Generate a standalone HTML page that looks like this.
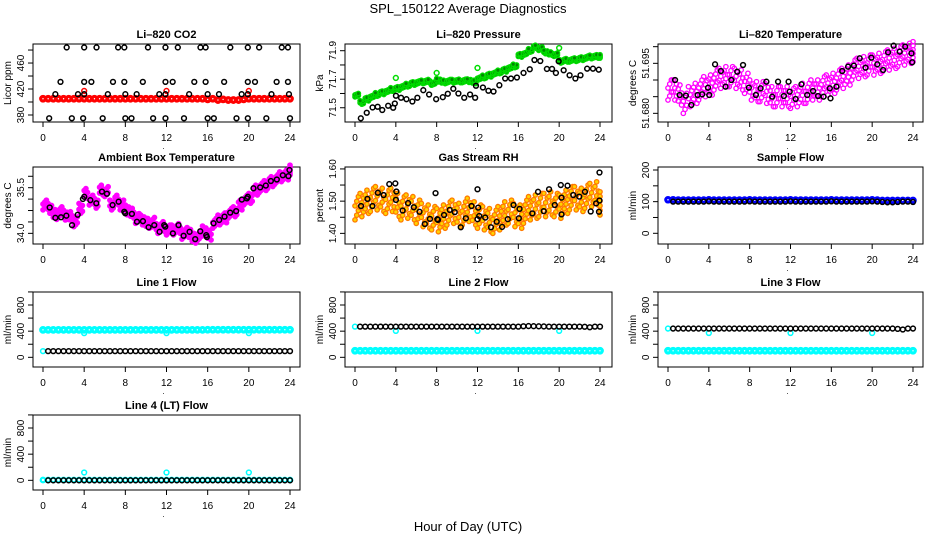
<!DOCTYPE html>
<html><head><meta charset="utf-8"><style>
html,body{margin:0;padding:0;background:#fff;}
svg{display:block;font-family:"Liberation Sans",Arial,sans-serif;}
</style></head><body>
<svg id="chart" width="936" height="540" viewBox="0 0 936 540">
<text x="468" y="13" text-anchor="middle" font-size="13">SPL_150122  Average Diagnostics</text>
<text x="468" y="531" text-anchor="middle" font-size="13">Hour of Day (UTC)</text>
</svg>
<script>
// ---- shared x data ----
const halfHours = [0,0.5,1,1.5,2,2.5,3,3.5,4,4.5,5,5.5,6,6.5,7,7.5,8,8.5,9,9.5,10,10.5,11,11.5,12,12.5,13,13.5,14,14.5,15,15.5,16,16.5,17,17.5,18,18.5,19,19.5,20,20.5,21,21.5,22,22.5,23,23.5,24];
const flowHours = [0.5,1,1.5,2,2.5,3,3.5,4,4.5,5,5.5,6,6.5,7,7.5,8,8.5,9,9.5,10,10.5,11,11.5,12,12.5,13,13.5,14,14.5,15,15.5,16,16.5,17,17.5,18,18.5,19,19.5,20,20.5,21,21.5,22,22.5,23,23.5,24];
const xTickLabels = ["0","4","8","12","16","20","24"];
const calHours = [4,12,20];

// ---- CO2 ----
const co2Red = [405,405,405,405,405,405,405,405,405,405,405,405,405,405,405,405,405,405,405,405,405,405,405,405,405,405,405,405,405,405,405,405,404,405,403,404,403,403,403,404,405,405,405,405,405,405,405,405,405];
const co2RedOutT = [4,12,20];
const co2RedOut = [417,417,417];
const co2TopT = [2.3,4.0,5.2,7.3,7.9,10.2,11.9,13.1,15.3,15.8,18.2,19.9,21.0,23.2,23.8];
const co2TopV = [484,484,484,484,484,484,484,484,484,484,484,484,484,484,484];
const co2HiT = [1.7,4.0,4.7,6.8,7.9,9.7,11.9,12.6,14.7,15.8,17.6,19.9,20.6,22.7,23.8];
const co2HiV = [431,431,431,431,431,431,431,431,431,431,431,431,431,431,431];
const co2MidT = [1.2,3.4,4.0,6.3,8.0,9.1,11.3,11.9,14.2,16.0,17.1,19.3,19.9,22.2,23.9];
const co2MidV = [412,412,412,412,412,412,412,412,412,412,412,412,412,412,412];
const co2LowT = [0.6,2.8,3.9,5.8,8.0,8.6,10.7,11.9,13.7,16.0,16.6,18.8,19.9,21.7,24];
const co2LowV = [375,375,375,375,375,375,375,375,375,375,375,375,375,375,375];

// ---- Pressure ----
const presGreen = [71.588,71.537,71.56,71.577,71.593,71.605,71.616,71.628,71.635,71.647,71.658,71.670,71.677,71.681,71.686,71.67,71.693,71.681,71.686,71.686,71.688,71.688,71.69,71.681,71.705,71.716,71.728,71.74,71.751,71.763,71.779,71.793,71.867,71.879,71.902,71.926,71.914,71.891,71.879,71.872,71.826,71.833,71.833,71.837,71.844,71.851,71.856,71.86,71.86];
const presGreenOut = [71.709,71.744,71.779,71.919];
const presGreenOutT = [4,8,12,20];
const presBlackT = [0.57,1.15,1.72,2.22,2.67,3.25,3.74,3.9,4.01,4.51,5.04,5.62,6.11,6.69,7.26,7.95,8.6,9.09,9.63,10.13,10.7,11.27,11.77,11.85,12.53,13.07,13.57,14.14,14.71,15.28,15.86,16.51,17.12,17.58,18.15,18.8,19.3,19.68,19.95,20.44,21.02,21.59,22.09,22.74,23.31,23.88];
const presBlackV = [71.426,71.465,71.502,71.507,71.484,71.514,71.5,71.53,71.584,71.57,71.56,71.544,71.57,71.623,71.593,71.56,71.574,71.598,71.633,71.6,71.57,71.593,71.57,71.654,71.642,71.619,71.614,71.658,71.705,71.705,71.712,71.744,71.77,71.835,71.828,71.772,71.772,71.744,71.826,71.763,71.728,71.705,71.728,71.774,71.774,71.767];

// ---- Li-820 temperature ----
const tempMag = [51.687,51.687,51.6855,51.683,51.685,51.686,51.687,51.688,51.6885,51.690,51.6905,51.691,51.691,51.6905,51.690,51.689,51.687,51.6865,51.6865,51.686,51.685,51.685,51.685,51.685,51.6845,51.685,51.686,51.686,51.687,51.687,51.688,51.6885,51.689,51.690,51.6905,51.6915,51.693,51.6935,51.694,51.6945,51.6945,51.695,51.6955,51.696,51.6965,51.697,51.6975,51.698,51.6985];
const tempBlackT = [0.69,1.14,1.75,2.29,2.9,3.35,3.92,4.04,4.61,5.18,5.64,6.21,6.78,7.35,7.92,8.61,9.07,9.64,10.21,10.78,11.35,11.81,11.92,12.5,13.07,13.64,14.21,14.7,15.24,15.85,15.92,16.5,17.07,17.64,18.21,18.78,19.35,19.92,20.5,21.07,21.56,22.1,22.7,23.24,23.85,23.92];
const tempBlackV = [51.69,51.6855,51.6853,51.6825,51.6855,51.6857,51.6877,51.6855,51.6947,51.6927,51.688,51.69,51.6925,51.6945,51.6877,51.6855,51.6875,51.6895,51.685,51.6895,51.6852,51.6895,51.6865,51.6843,51.6887,51.6855,51.6867,51.6852,51.685,51.6875,51.6845,51.688,51.6927,51.694,51.6943,51.6965,51.6937,51.6967,51.6947,51.693,51.6983,51.7003,51.6985,51.7,51.698,51.6953];

// ---- Ambient box temperature ----
const ambMag = [34.93,34.82,34.62,34.71,34.60,34.55,34.38,34.82,35.31,35.09,34.99,35.42,35.37,34.93,35.09,34.93,34.77,34.66,34.49,34.44,34.33,34.36,34.16,34.22,34.11,34.11,34.16,33.97,34.03,33.84,33.92,34.08,33.94,34.33,34.44,34.51,34.66,34.71,34.93,35.09,35.15,35.42,35.5,35.57,35.70,35.77,35.86,35.92,36.08];
const ambBlackT = [0.65,1.2,1.75,2.27,2.82,3.37,3.88,4.01,4.6,5.18,5.73,6.21,6.76,7.35,7.9,7.99,8.64,9.13,9.71,10.26,10.81,11.33,11.78,11.88,12.62,13.17,13.66,14.24,14.79,15.28,15.86,15.92,16.57,17.12,17.64,18.19,18.77,19.32,19.81,19.9,20.45,21.1,21.65,22.14,22.72,23.3,23.85,23.95];
const ambBlackV = [34.85,34.51,34.53,34.58,34.27,34.61,35.13,35.2,35.09,34.99,35.37,35.3,34.93,35.04,34.71,34.66,34.64,34.38,34.4,34.2,34.27,34.05,34.27,34.22,34.0,34.27,33.92,34.05,33.81,34.07,33.94,33.88,34.33,34.44,34.55,34.68,34.73,35.11,35.15,35.2,35.48,35.51,35.57,35.72,35.77,35.91,35.88,36.08];

// ---- Gas stream RH ----
const rhOrange = [1.478,1.488,1.498,1.504,1.509,1.504,1.498,1.504,1.488,1.478,1.483,1.478,1.467,1.457,1.452,1.447,1.441,1.452,1.462,1.467,1.457,1.462,1.473,1.462,1.452,1.447,1.441,1.436,1.447,1.462,1.467,1.457,1.452,1.467,1.478,1.483,1.488,1.488,1.493,1.488,1.483,1.498,1.509,1.509,1.504,1.514,1.519,1.524,1.493];
const rhBlackT = [0.59,1.22,1.71,2.24,2.8,3.36,3.95,4.05,4.01,4.67,5.2,5.76,6.32,6.84,7.34,7.89,8.06,8.13,8.72,9.28,9.77,10.36,10.86,11.41,12.0,12.07,12.0,12.17,12.76,13.32,13.88,14.41,14.97,15.53,16.05,16.12,17.37,17.93,18.49,19.01,19.57,20.16,20.23,20.23,20.82,21.38,21.97,22.53,23.09,23.62,23.95,23.95,23.9];
const rhBlackV = [1.485,1.507,1.485,1.526,1.519,1.553,1.555,1.53,1.504,1.471,1.494,1.481,1.467,1.429,1.445,1.525,1.444,1.442,1.457,1.473,1.466,1.419,1.447,1.485,1.537,1.48,1.444,1.454,1.449,1.419,1.436,1.42,1.444,1.488,1.447,1.476,1.462,1.529,1.469,1.537,1.488,1.55,1.511,1.459,1.548,1.519,1.514,1.529,1.468,1.493,1.589,1.502,1.467];

// ---- Sample flow ----
const sampleBlue = [106,106,105,105,105,105,105,105,106,105,105,105,105,105,105,105,106,105,105,105,105,105,105,105,106,105,105,105,105,105,105,105,106,105,105,105,105,105,105,105,106,105,104,104,104,104,104,104,104];
const sampleBlack = [100,100,100,100,100,100,100,101,100,100,100,100,100,100,100,101,100,100,100,100,100,100,100,101,100,100,100,100,100,100,100,101,100,100,100,100,100,100,100,101,100,99,98,98,99,100,100,99];

// ---- Line flows ----
const l1Cyan = [420,420,420,420,420,420,420,420,420,420,420,420,420,420,420,420,420,420,420,420,420,420,420,420,420,420,420,420,420,420,420,420,422,422,422,422,422,422,422,422,422,422,422,422,422,422,422,422,422];
const l1CyanLow = [95];
const l1CyanOut = [370,370,370];
const l1Black = [95,95,95,95,95,95,95,95,95,95,95,95,95,95,95,95,95,95,95,95,95,95,95,95,95,95,95,95,95,95,95,95,95,95,95,95,95,95,95,95,95,95,95,95,95,95,95,95];
const l2Cyan = [100,100,100,100,100,100,100,100,100,100,100,100,100,100,100,100,100,100,100,100,100,100,100,100,100,100,100,100,100,100,100,100,100,100,100,100,100,100,100,100,100,100,100,100,100,100,100,100,100];
const l2CyanHigh = [470];
const l2CyanOut = [405,405,405];
const l2Black = [470,470,470,470,470,470,470,470,470,470,470,470,470,470,470,470,470,470,470,470,470,470,470,470,470,470,470,470,470,470,470,470,475,478,476,474,472,470,470,470,470,470,470,470,468,460,470,470];
const l3Cyan = [100,100,100,100,100,100,100,100,100,100,100,100,100,100,100,100,100,100,100,100,100,100,100,100,100,100,100,100,100,100,100,100,100,100,100,100,100,100,100,100,100,100,100,100,100,100,100,100,100];
const l3CyanHigh = [440];
const l3CyanOut = [372,372,372];
const l3Black = [440,440,440,440,440,440,440,440,440,440,440,440,440,440,440,440,440,440,440,440,440,440,440,440,440,440,440,440,440,440,440,440,440,440,440,440,440,440,440,440,440,440,440,440,435,425,440,440];
const l4Cyan = [5,5,5,5,5,5,5,5,5,5,5,5,5,5,5,5,5,5,5,5,5,5,5,5,5,5,5,5,5,5,5,5,5,5,5,5,5,5,5,5,5,5,5,5,5,5,5,5,5];
const l4CyanOut = [120,120,120];
const l4Black = [0,0,0,0,0,0,0,0,0,0,0,0,0,0,0,0,0,0,0,0,0,0,0,0,0,0,0,0,0,0,0,0,0,0,0,0,0,0,0,0,0,0,0,0,0,0,0,0];

// ---- y-axis tick/label arrays ----
const co2Ticks = [380,400,420,440,460,480];
const co2Labels = ["380","","420","","460",""];
const presTicks = [71.5,71.6,71.7,71.8,71.9];
const presLabels = ["71.5","","71.7","","71.9"];
const tempTicks = [51.680,51.685,51.690,51.695,51.700];
const tempLabels = ["51.680","","","51.695",""];
const ambTicks = [34.0,34.375,34.75,35.125,35.5,35.875];
const ambLabels = ["34.0","","","","35.5",""];
const rhTicks = [1.40,1.45,1.50,1.55,1.60];
const rhLabels = ["1.40","","1.50","","1.60"];
const sfTicks = [0,50,100,150,200];
const sfLabels = ["0","","100","","200"];
const flowTicks = [0,200,400,600,800,1000];
const flowLabels = ["0","","400","","800",""];

// ---- rendering ----
const NS = "http://www.w3.org/2000/svg";
const svg = document.getElementById("chart");
const COLS = [{x0:43,x24:290,l:33,r:300},{x0:355,x24:600,l:345,r:612},{x0:668,x24:913,l:658,r:923}];
const ROWS = [{t:44,b:122},{t:167,b:244},{t:292,b:367},{t:415,b:490}];

function mk(tag, attrs, parent){
  const e = document.createElementNS(NS, tag);
  for (const k in attrs) e.setAttribute(k, attrs[k]);
  (parent||svg).appendChild(e);
  return e;
}

function makePanel(col,row,title,ylab,ymin,ymax,ticks,labels,name){
  const c = COLS[col], r = ROWS[row];
  const g = mk("g",{});
  
  
  const p = {g, sx:t=>c.x0+t*(c.x24-c.x0)/24, sy:v=>r.b-(v-ymin)/(ymax-ymin)*(r.b-r.t), c, r};
  const box = mk("rect",{x:c.l,y:r.t,width:c.r-c.l,height:r.b-r.t,fill:"none",stroke:"#000","stroke-width":1},g);
  
  
  const tt = mk("text",{x:(c.l+c.r)/2,y:r.t-6,"text-anchor":"middle","font-size":11,"font-weight":"bold"},g);
  tt.textContent = title;
  
  
  const xa = mk("g",{},g);
  
  
  mk("line",{x1:p.sx(0),x2:p.sx(24),y1:r.b,y2:r.b,stroke:"#000"},xa);
  xTickLabels.forEach(lb=>{
    const x = p.sx(+lb);
    mk("line",{x1:x,x2:x,y1:r.b,y2:r.b+5,stroke:"#000"},xa);
    const t = mk("text",{x:x,y:r.b+19,"text-anchor":"middle","font-size":10},xa);
    t.textContent = lb;
    
    
  });
  const dot = mk("text",{x:(c.l+c.r)/2-3,y:r.b+27,"text-anchor":"middle","font-size":8},xa);
  dot.textContent = ".";
  const ya = mk("g",{},g);
  
  
  mk("line",{x1:c.l,x2:c.l,y1:p.sy(ticks[0]),y2:p.sy(ticks[ticks.length-1]),stroke:"#000"},ya);
  ticks.forEach((v,i)=>{
    const y = p.sy(v);
    mk("line",{x1:c.l-5,x2:c.l,y1:y,y2:y,stroke:"#000"},ya);
    if (labels[i]) {
      const t = mk("text",{x:0,y:0,"text-anchor":"middle","font-size":10,transform:`translate(${c.l-9},${y}) rotate(-90)`},ya);
      t.textContent = labels[i];
      
      
    }
  });
  const yt = mk("text",{x:0,y:0,"text-anchor":"middle","font-size":10,transform:`translate(${c.l-22},${(r.t+r.b)/2}) rotate(-90)`},g);
  yt.textContent = ylab;
  
  
  return p;
}

function pts(p, ts, vs, color, name, rad, sw, fill){
  const g = mk("g",{},p.g);
  
  
  vs.forEach((v,i)=>{
    const ci = mk("circle",{cx:p.sx(ts[i]),cy:p.sy(v),r:rad||2.4,fill:fill||"none",stroke:color,"stroke-width":sw||1.5},g);
    
    
  });
  return g;
}

function cloud(p, ts, vs, spread, color, name, fill){
  const g = mk("g",{},p.g);
  
  
  const ks = [-1,-0.6,-0.2,0.2,0.6,1];
  const dts = [0,0.17,0.33];
  vs.forEach((v,i)=>{
    ks.forEach((k,j)=>{
      const t = Math.min(24, ts[i]+dts[(i+j)%3]);
      const ci = mk("circle",{cx:p.sx(t),cy:p.sy(v+k*spread),r:2.2,fill:fill||"none",stroke:color,"stroke-width":1.3},g);
      
      
    });
  });
}

let p = makePanel(0,0,"Li\u2013820 CO2","Licor ppm",369.2,489.3,co2Ticks,co2Labels,"co2-panel");
pts(p, halfHours, co2Red, "#ff0000", "co2-red-series", 2.3, 3.2);
pts(p, co2RedOutT, co2RedOut, "#ff0000", "co2-red-outliers");
pts(p, co2TopT, co2TopV, "#000", "co2-black-top");
pts(p, co2HiT, co2HiV, "#000", "co2-black-high");
pts(p, co2MidT, co2MidV, "#000", "co2-black-mid");
pts(p, co2LowT, co2LowV, "#000", "co2-black-low");

p = makePanel(1,0,"Li\u2013820 Pressure","kPa",71.40,71.947,presTicks,presLabels,"pressure-panel");
cloud(p, halfHours, presGreen, 0.012, "#00dd00", "pressure-green-series", "#008800");
pts(p, presGreenOutT, presGreenOut, "#00dd00", "pressure-green-outliers");
pts(p, presBlackT, presBlackV, "#000", "pressure-black-series");

p = makePanel(2,0,"Li\u2013820 Temperature","degrees C",51.6774,51.7008,tempTicks,tempLabels,"li820-temp-panel");
cloud(p, halfHours, tempMag, 0.003, "#ff00ff", "temp-magenta-series");
pts(p, tempBlackT, tempBlackV, "#000", "temp-black-series");

p = makePanel(0,1,"Ambient Box Temperature","degrees C",33.65,36.18,ambTicks,ambLabels,"ambient-temp-panel");
cloud(p, halfHours, ambMag, 0.16, "#ff00ff", "ambient-magenta-series", "#ff00ff");
pts(p, ambBlackT, ambBlackV, "#000", "ambient-black-series");

p = makePanel(1,1,"Gas Stream RH","percent",1.367,1.606,rhTicks,rhLabels,"rh-panel");
cloud(p, halfHours, rhOrange, 0.036, "#ff7a00", "rh-orange-series", "#ffd400");
pts(p, rhBlackT, rhBlackV, "#000", "rh-black-series");

p = makePanel(2,1,"Sample Flow","ml/min",-33.8,209.5,sfTicks,sfLabels,"sample-flow-panel");
pts(p, halfHours, sampleBlue, "#0000ff", "sample-blue-series", 2.3, 3);
pts(p, flowHours, sampleBlack, "#000", "sample-black-series");

p = makePanel(0,2,"Line 1 Flow","ml/min",-148,999,flowTicks,flowLabels,"line1-flow-panel");
pts(p, halfHours, l1Cyan, "#00ffff", "line1-cyan-series", 2.3, 3.2);
pts(p, [0], l1CyanLow, "#00ffff", "line1-cyan-start");
pts(p, calHours, l1CyanOut, "#00ffff", "line1-cyan-outliers");
pts(p, flowHours, l1Black, "#000", "line1-black-series");

p = makePanel(1,2,"Line 2 Flow","ml/min",-148,999,flowTicks,flowLabels,"line2-flow-panel");
pts(p, halfHours, l2Cyan, "#00ffff", "line2-cyan-series", 2.3, 3.2);
pts(p, [0], l2CyanHigh, "#00ffff", "line2-cyan-start");
pts(p, calHours, l2CyanOut, "#00ffff", "line2-cyan-outliers");
pts(p, flowHours, l2Black, "#000", "line2-black-series");

p = makePanel(2,2,"Line 3 Flow","ml/min",-148,999,flowTicks,flowLabels,"line3-flow-panel");
pts(p, halfHours, l3Cyan, "#00ffff", "line3-cyan-series", 2.3, 3.2);
pts(p, [0], l3CyanHigh, "#00ffff", "line3-cyan-start");
pts(p, calHours, l3CyanOut, "#00ffff", "line3-cyan-outliers");
pts(p, flowHours, l3Black, "#000", "line3-black-series");

p = makePanel(0,3,"Line 4 (LT) Flow","ml/min",-148,999,flowTicks,flowLabels,"line4-flow-panel");
pts(p, halfHours, l4Cyan, "#00ffff", "line4-cyan-series", 2.3, 2.2);
pts(p, calHours, l4CyanOut, "#00ffff", "line4-cyan-outliers");
pts(p, flowHours, l4Black, "#000", "line4-black-series");
</script>
</body></html>
